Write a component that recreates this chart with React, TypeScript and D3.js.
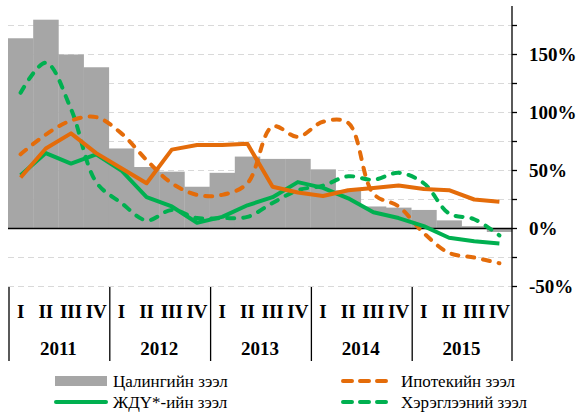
import React from 'react';
import * as d3 from 'd3';

const years = ['2011', '2012', '2013', '2014', '2015'];
const quarterNames = ['I', 'II', 'III', 'IV'];
const quarters = years.flatMap((y) => quarterNames.map((q) => `${y}-${q}`));

// Цалингийн зээл (bars)
const salaryLoans = [164, 180, 150, 139, 69, 53, 49, 36, 48, 62, 60, 60, 51, 33, 19, 18, 16, 7, 2, -3];
// ЖДҮ*-ийн зээл
const smeLoans = [46, 65, 56, 64, 50, 27, 19, 5, 10, 20, 27, 40, 35, 26, 14, 9, 2, -8, -11, -13];
// Ипотекийн зээл
const mortgageLoans = [64, 81, 93, 96, 82, 59, 39, 29, 29, 39, 88, 79, 92, 91, 30, 19, -4, -21, -25, -30];
// Хэрэглээний зээл
const consumerLoans = [117, 143, 103, 40, 22, 7, 16, 9, 9, 10, 22, 33, 37, 45, 42, 48, 39, 13, 8, -6];
// solid orange, not in legend
const totalLoans = [44, 69, 82, 65, 52, 39, 68, 72, 72, 73, 36, 31, 28, 33, 35, 37, 34, 33, 25, 23];

const gridTicks = [-50, -25, 0, 25, 50, 75, 100, 125, 150, 175];
const labelTicks = [-50, 0, 50, 100, 150];

const GRAY = '#a6a6a6';
const ORANGE = '#e46c0a';
const GREEN = '#00b050';
const FONT = '"Liberation Serif", "Times New Roman", serif';

export default function App() {
  const W = 579;
  const H = 416;
  const left = 8;
  const right = 512;

  const x = d3.scaleBand<string>().domain(quarters).range([left, right]).padding(0);
  const xYear = d3.scaleBand<string>().domain(years).range([left, right]).padding(0);
  const y = d3.scaleLinear().domain([-50, 175]).range([286.5, 25.5]);

  const cx = (i: number) => (x(quarters[i]) as number) + x.bandwidth() / 2;
  const straight = d3.line<number>().x((_, i) => cx(i)).y((d) => y(d));
  const smooth = d3.line<number>().x((_, i) => cx(i)).y((d) => y(d)).curve(d3.curveCatmullRom.alpha(0.5));

  return (
    <svg width={W} height={H} style={{ position: 'absolute', left: 0, top: 0, background: '#fff' }}>
      {/* gridlines */}
      {gridTicks.filter((t) => t !== 0).map((t) => (
        <line key={t} x1={left} x2={right} y1={y(t)} y2={y(t)} stroke="#d9d9d9" strokeWidth={1.2} strokeDasharray="6 4" />
      ))}

      {/* bars */}
      {salaryLoans.map((v, i) => (
        <rect
          key={quarters[i]}
          x={x(quarters[i])}
          y={Math.min(y(v), y(0))}
          width={x.bandwidth() + 0.3}
          height={Math.abs(y(v) - y(0))}
          fill={GRAY}
        />
      ))}

      {/* zero line */}
      <line x1={left} x2={right} y1={y(0)} y2={y(0)} stroke="#000" strokeWidth={1.5} />

      {/* series lines */}
      <path d={smooth(consumerLoans) || ''} fill="none" stroke={GREEN} strokeWidth={4} strokeDasharray="7 9" strokeLinecap="round" />
      <path d={smooth(mortgageLoans) || ''} fill="none" stroke={ORANGE} strokeWidth={4} strokeDasharray="7 9" strokeLinecap="round" />
      <path d={straight(smeLoans) || ''} fill="none" stroke={GREEN} strokeWidth={4} strokeLinejoin="round" />
      <path d={straight(totalLoans) || ''} fill="none" stroke={ORANGE} strokeWidth={4} strokeLinejoin="round" />

      {/* right axis */}
      <line x1={right} x2={right} y1={6} y2={361} stroke="#000" strokeWidth={1.3} />
      {gridTicks.map((t) => (
        <line key={t} x1={right} x2={right + 5} y1={y(t)} y2={y(t)} stroke="#000" strokeWidth={1.3} />
      ))}
      {labelTicks.map((t) => (
        <text key={t} x={529} y={y(t)} dy="0.35em" fontFamily={FONT} fontWeight="bold" fontSize={19} fill="#000">
          {`${t}%`}
        </text>
      ))}

      {/* category axis */}
      {years.map((yr) => (
        <line key={yr} x1={(xYear(yr) as number) + 1} x2={(xYear(yr) as number) + 1} y1={287} y2={361} stroke="#000" strokeWidth={1.3} />
      ))}
      {quarters.map((q, i) => (
        <text key={q} x={cx(i)} y={311} dy="0.35em" textAnchor="middle" fontFamily={FONT} fontWeight="bold" fontSize={19}>
          {quarterNames[i % 4]}
        </text>
      ))}
      {years.map((yr) => (
        <text key={yr} x={(xYear(yr) as number) + xYear.bandwidth() / 2} y={348} dy="0.35em" textAnchor="middle" fontFamily={FONT} fontWeight="bold" fontSize={19}>
          {yr}
        </text>
      ))}

      {/* legend */}
      <rect x={55} y={376} width={52} height={10} fill={GRAY} />
      <text x={113} y={381} dy="0.35em" fontFamily={FONT} fontSize={17}>Цалингийн зээл</text>
      <line x1={56} x2={106} y1={402} y2={402} stroke={GREEN} strokeWidth={4} strokeLinecap="round" />
      <text x={113} y={402} dy="0.35em" fontFamily={FONT} fontSize={17}>ЖДҮ*-ийн зээл</text>
      <line x1={343} x2={389} y1={381} y2={381} stroke={ORANGE} strokeWidth={4} strokeDasharray="9 8" strokeLinecap="round" />
      <text x={401} y={381} dy="0.35em" fontFamily={FONT} fontSize={17}>Ипотекийн зээл</text>
      <line x1={343} x2={389} y1={402} y2={402} stroke={GREEN} strokeWidth={4} strokeDasharray="9 8" strokeLinecap="round" />
      <text x={401} y={402} dy="0.35em" fontFamily={FONT} fontSize={17}>Хэрэглээний зээл</text>
    </svg>
  );
}
